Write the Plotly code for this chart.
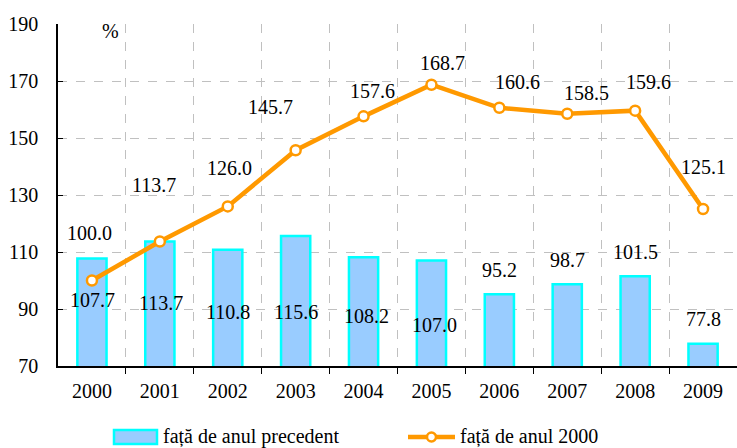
import plotly.graph_objects as go

# ---- data ----
years = ["2000", "2001", "2002", "2003", "2004", "2005", "2006", "2007", "2008", "2009"]
prev_year = [107.7, 113.7, 110.8, 115.6, 108.2, 107.0, 95.2, 98.7, 101.5, 77.8]
vs_2000 = [100.0, 113.7, 126.0, 145.7, 157.6, 168.7, 160.6, 158.5, 159.6, 125.1]
y_ticks = [70, 90, 110, 130, 150, 170, 190]

# ---- label placement (layout only) ----
bar_label_y = [93.2, 92.1, 89.0, 89.0, 87.5, 84.4, 103.7, 107.2, 110.0, 86.5]
bar_label_dx = [1, 1, 0, 0, 3, 3, 0, 0, 0, 0]
line_label_y = [116.7, 133.5, 139.5, 160.9, 166.5, 176.3, 169.6, 165.8, 169.6, 139.8]
line_label_dx = [-2, -6, 2, -25, 9, 11, 18, 19, 13, 0]

FONT = "Liberation Serif"
TXT = dict(family=FONT, size=20, color="black")
W, H = 737, 448
L, R, T, B = 58, 0, 24, 82
PW, PH = W - L - R, H - T - B

def px(x):
    return (x - L) / PW

def py(y):
    return (H - B - y) / PH

xs = list(range(len(years)))

fig = go.Figure()
fig.add_trace(go.Bar(
    x=xs, y=prev_year, width=0.43,
    marker=dict(color="#99CCFF", line=dict(color="#00FFFF", width=2.5)),
    showlegend=False, hoverinfo="skip",
))
fig.add_trace(go.Scatter(
    x=xs, y=vs_2000, mode="lines+markers",
    line=dict(color="#FF9900", width=4.5),
    marker=dict(size=10, color="white", line=dict(color="#FF9900", width=2.5)),
    showlegend=False, hoverinfo="skip", cliponaxis=False,
))

annotations = []
for i, v in enumerate(prev_year):
    annotations.append(dict(x=xs[i], y=bar_label_y[i], xref="x", yref="y", text=f"{v:.1f}",
                            showarrow=False, xshift=bar_label_dx[i], font=TXT))
for i, v in enumerate(vs_2000):
    annotations.append(dict(x=xs[i], y=line_label_y[i], xref="x", yref="y", text=f"{v:.1f}",
                            showarrow=False, xshift=line_label_dx[i], font=TXT))
annotations.append(dict(x=px(100), y=py(18), xref="paper", yref="paper", text="%",
                        showarrow=False, font=TXT))
# custom legend
annotations.append(dict(x=px(161), y=py(437), xref="paper", yref="paper", text="față de anul precedent",
                        showarrow=False, xanchor="left", yanchor="middle", font=TXT))
annotations.append(dict(x=px(458), y=py(437), xref="paper", yref="paper", text="față de anul 2000",
                        showarrow=False, xanchor="left", yanchor="middle", font=TXT))

shapes = [
    dict(type="rect", xref="paper", yref="paper", x0=px(114), x1=px(157), y0=py(444), y1=py(430),
         fillcolor="#99CCFF", line=dict(color="#00FFFF", width=2.5)),
    dict(type="line", xref="paper", yref="paper", x0=px(408), x1=px(455), y0=py(437), y1=py(437),
         line=dict(color="#FF9900", width=4.5)),
    dict(type="circle", xref="paper", yref="paper", x0=px(427), x1=px(436), y0=py(441.5), y1=py(432.5),
         fillcolor="white", line=dict(color="#FF9900", width=2.5)),
]

fig.update_layout(
    width=W, height=H,
    margin=dict(l=L, r=R, t=T, b=B, pad=0),
    plot_bgcolor="white", paper_bgcolor="white",
    font=TXT,
    annotations=annotations, shapes=shapes,
    xaxis=dict(
        range=[-0.5, len(years) - 0.5],
        tickmode="array", tickvals=xs, ticktext=years,
        ticks="outside", ticklen=6, tickcolor="rgba(0,0,0,0)",
        showgrid=False, zeroline=False,
        showline=True, linecolor="black", linewidth=1.5,
        tickfont=TXT,
        minor=dict(tickmode="array", tickvals=[i + 0.5 for i in xs[:-1]],
                   ticks="outside", ticklen=6, tickcolor="black", tickwidth=1,
                   showgrid=True, gridcolor="#C0C0C0", griddash="dash", gridwidth=1),
    ),
    yaxis=dict(
        range=[70, 190], tickmode="array", tickvals=y_ticks,
        ticks="inside", ticklen=5, tickcolor="black", tickwidth=1,
        showgrid=True, gridcolor="#C0C0C0", griddash="dash", gridwidth=1,
        zeroline=False, showline=True, linecolor="black", linewidth=1.5,
        ticklabelstandoff=14,
        tickfont=TXT,
    ),
)

post = (
    "document.body.style.margin='0';document.body.style.overflow='hidden';"
    "var s=document.createElement('style');"
    "s.textContent='svg text{font-family:\"Liberation Serif\",\"Times New Roman\",serif !important;}';"
    "document.head.appendChild(s);"
)
fig.write_html("out.html", config={"displayModeBar": False}, post_script=post)
